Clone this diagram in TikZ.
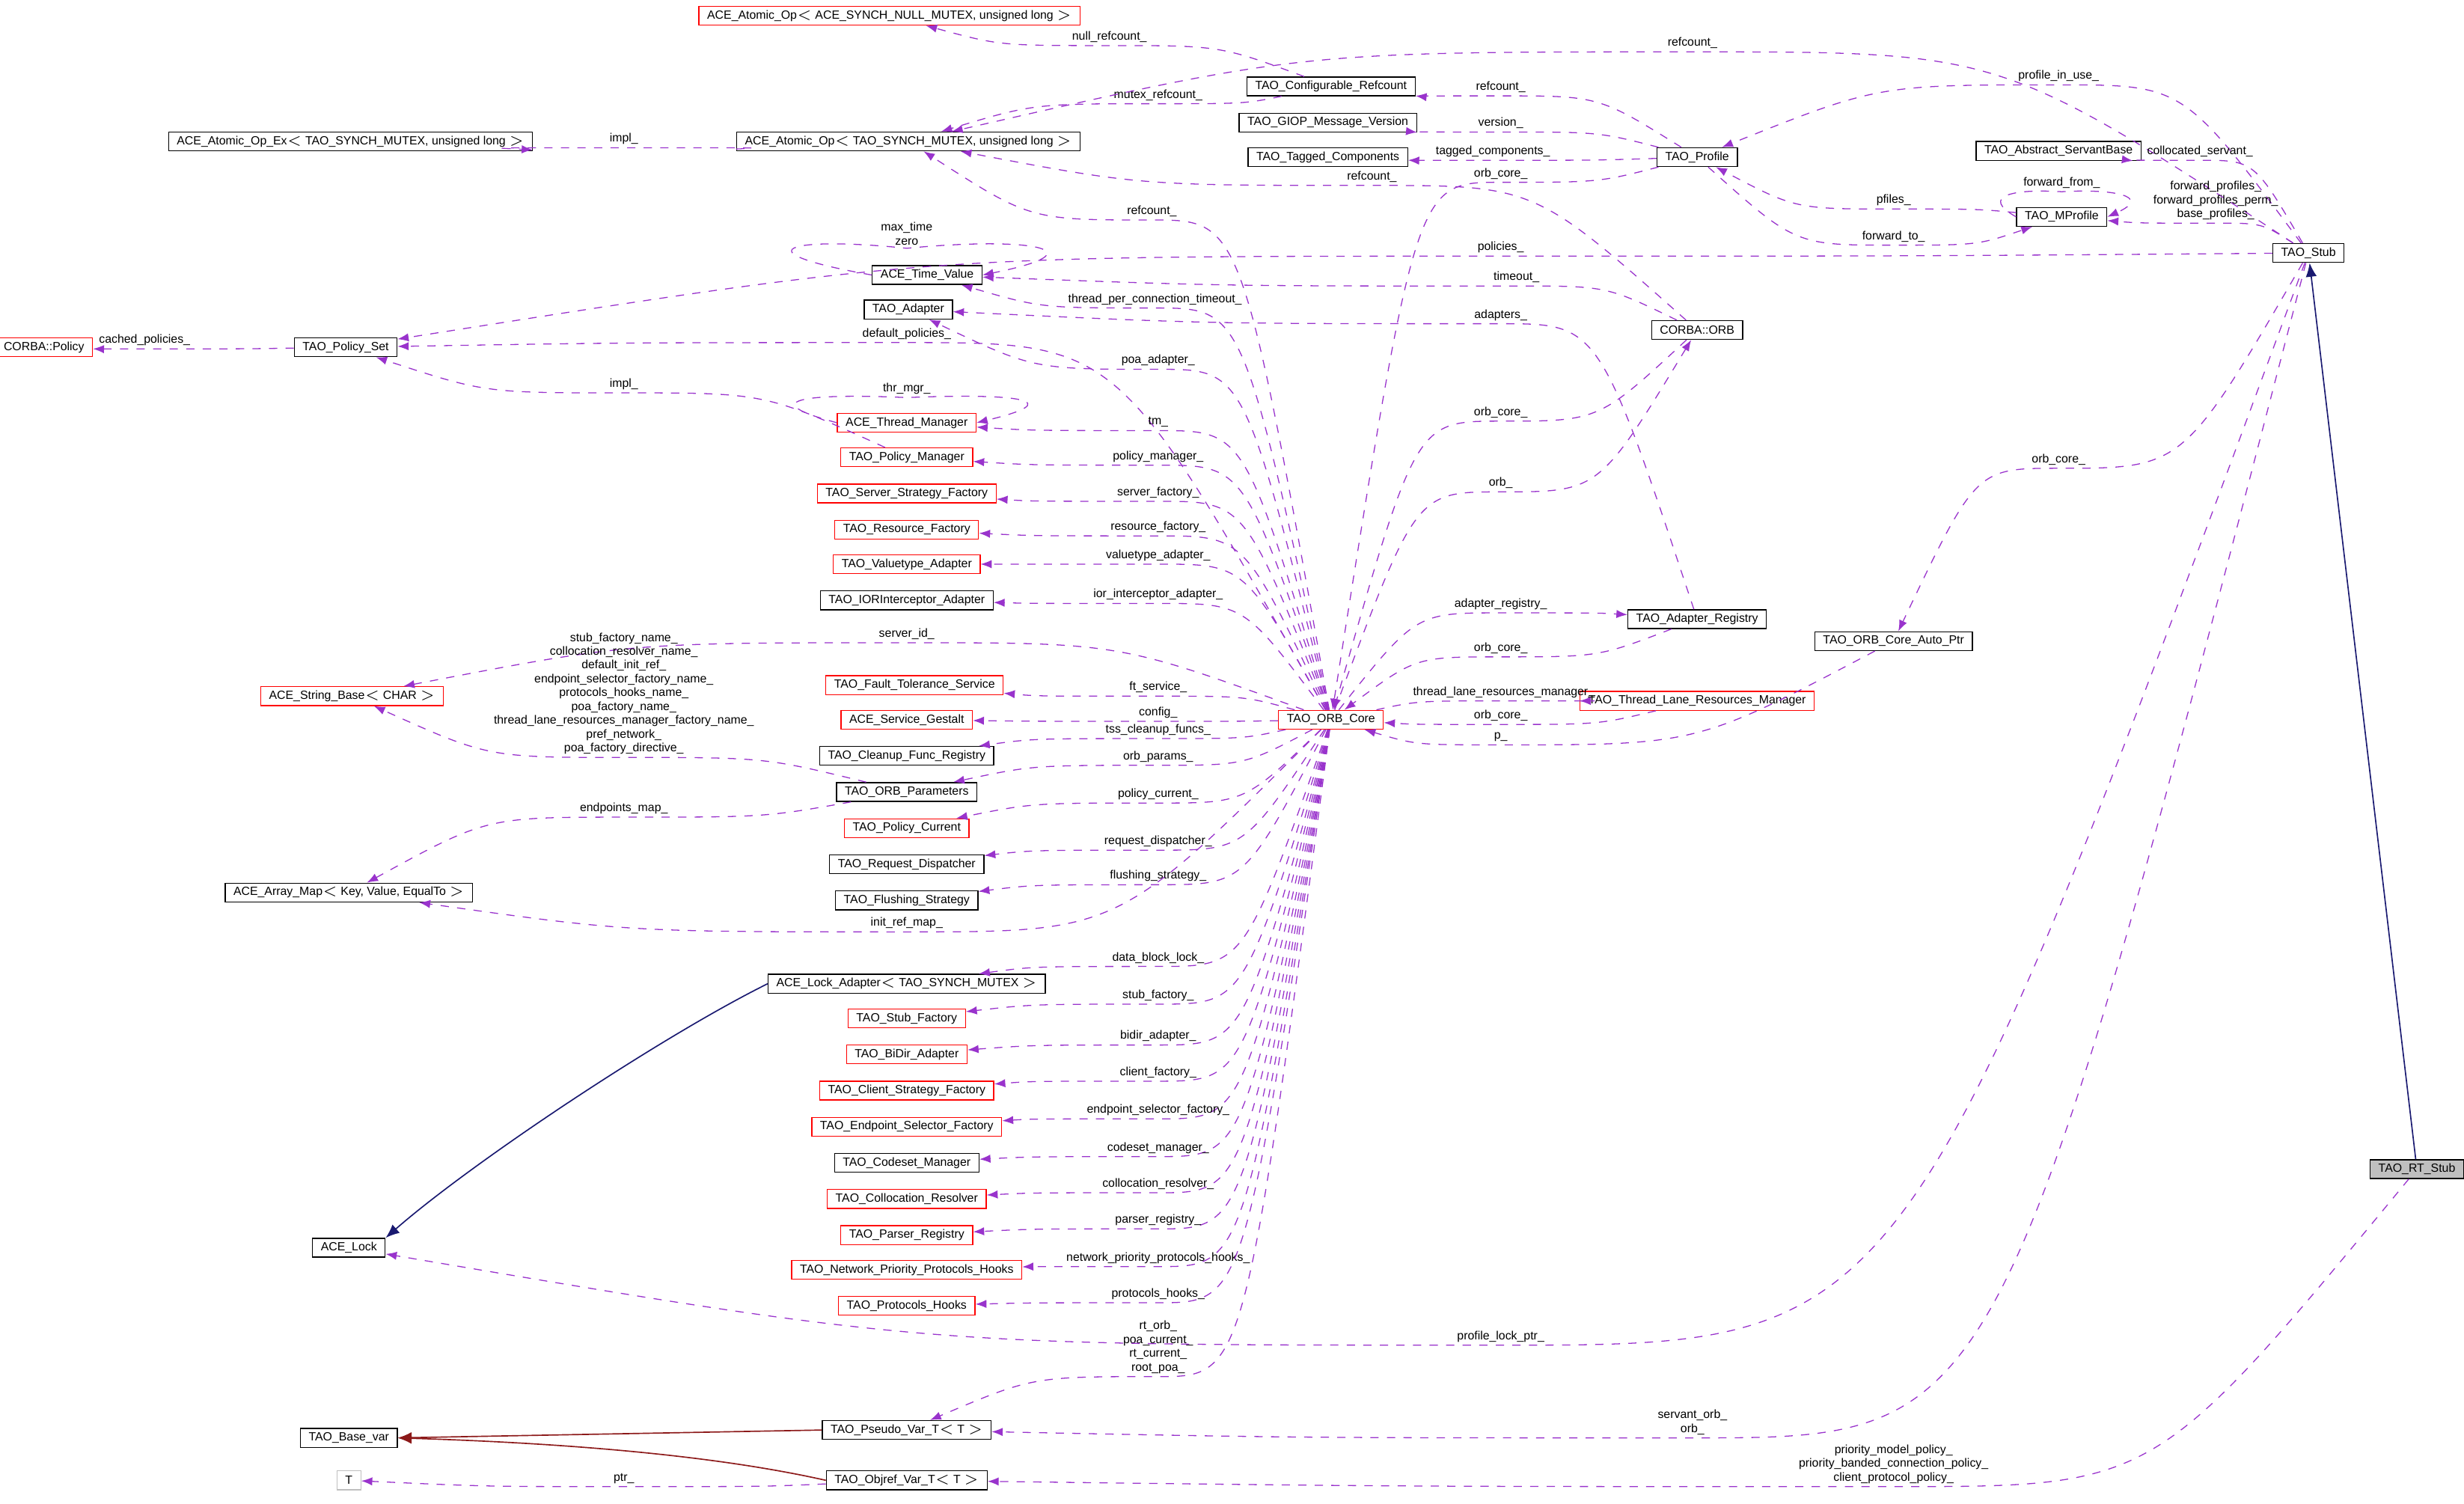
\documentclass[tikz,border=0pt]{standalone}
\usepackage{fontspec}
\setmainfont{Liberation Sans}
\usetikzlibrary{calc,arrows.meta}
\definecolor{depcol}{rgb}{0.60,0.20,0.80}
\definecolor{inhcol}{rgb}{0.10,0.10,0.44}
\definecolor{tplcol}{rgb}{0.55,0.10,0.10}
\tikzset{
    cls/.style={draw=black,line width=0.35pt,fill=white,font=\fontsize{4.3}{5}\selectfont,inner xsep=3pt,inner ysep=0pt,minimum height=0.24cm},
    clsred/.style={cls,draw=red},
    clsgray/.style={cls,draw=black!25},
    clscur/.style={cls,fill=black!25},
    dep/.style={depcol,line width=0.35pt,dashed,-{Latex[length=4pt,width=3pt]}},
    inh/.style={inhcol,line width=0.45pt,-{Latex[length=5pt,width=4pt]}},
    tpl/.style={tplcol,line width=0.45pt,-{Latex[length=5pt,width=4pt]}},
    lbl/.style={black,font=\fontsize{4.3}{5}\selectfont,inner sep=1pt,align=center}
}
% dashed usage edge, level at its label
\newcommand\dep[4]{%
  \coordinate (lp) at (#3);
  \path ($(lp)!0.5!(#1)$) coordinate (ma) ($(lp)!0.5!(#2)$) coordinate (mb);
  \draw[dep] (#1) .. controls (ma |- lp) .. (lp) node[lbl,above]{#4} .. controls (mb |- lp) .. (#2);}
\begin{document}
\begin{tikzpicture}[x=0.02cm,y=-0.02cm]
\useasboundingbox (0,0) rectangle (1568,957);
% classes
\node[clsred] (atomNull) at (566,10) {ACE\_Atomic\_Op$<$ ACE\_SYNCH\_NULL\_MUTEX, unsigned long $>$};
\node[cls] (confRef) at (847,55) {TAO\_Configurable\_Refcount};
\node[cls] (atomEx) at (223,90) {ACE\_Atomic\_Op\_Ex$<$ TAO\_SYNCH\_MUTEX, unsigned long $>$};
\node[cls] (atom) at (578,90) {ACE\_Atomic\_Op$<$ TAO\_SYNCH\_MUTEX, unsigned long $>$};
\node[cls] (giop) at (845,78) {TAO\_GIOP\_Message\_Version};
\node[cls] (tagged) at (845,100) {TAO\_Tagged\_Components};
\node[cls] (profile) at (1080,100) {TAO\_Profile};
\node[cls] (servBase) at (1310,96) {TAO\_Abstract\_ServantBase};
\node[cls] (mprofile) at (1312,138) {TAO\_MProfile};
\node[cls] (stub) at (1469,161) {TAO\_Stub};
\node[cls] (timeVal) at (590,175) {ACE\_Time\_Value};
\node[cls] (adapter) at (578,197) {TAO\_Adapter};
\node[cls] (orb) at (1080,210) {CORBA::ORB};
\node[clsred] (policy) at (28,221) {CORBA::Policy};
\node[cls] (polSet) at (220,221) {TAO\_Policy\_Set};
\node[clsred] (thrMgr) at (577,269) {ACE\_Thread\_Manager};
\node[clsred] (polMgr) at (577,291) {TAO\_Policy\_Manager};
\node[clsred] (srvStrat) at (577,314) {TAO\_Server\_Strategy\_Factory};
\node[clsred] (resFac) at (577,337) {TAO\_Resource\_Factory};
\node[clsred] (valAd) at (577,359) {TAO\_Valuetype\_Adapter};
\node[cls] (iorAd) at (577,382) {TAO\_IORInterceptor\_Adapter};
\node[cls] (adReg) at (1080,394) {TAO\_Adapter\_Registry};
\node[cls] (autoPtr) at (1205,408) {TAO\_ORB\_Core\_Auto\_Ptr};
\node[clsred] (strBase) at (224,443) {ACE\_String\_Base$<$ CHAR $>$};
\node[clsred] (ftServ) at (582,436) {TAO\_Fault\_Tolerance\_Service};
\node[clsred] (tlrm) at (1080,446) {TAO\_Thread\_Lane\_Resources\_Manager};
\node[clsred] (core) at (847,458) {TAO\_ORB\_Core};
\node[clsred] (gestalt) at (577,458) {ACE\_Service\_Gestalt};
\node[cls] (cleanup) at (577,481) {TAO\_Cleanup\_Func\_Registry};
\node[cls] (orbParams) at (577,504) {TAO\_ORB\_Parameters};
\node[clsred] (polCur) at (577,527) {TAO\_Policy\_Current};
\node[cls] (reqDisp) at (577,550) {TAO\_Request\_Dispatcher};
\node[cls] (arrMap) at (222,568) {ACE\_Array\_Map$<$ Key, Value, EqualTo $>$};
\node[cls] (flush) at (577,573) {TAO\_Flushing\_Strategy};
\node[cls] (lockAd) at (577,626) {ACE\_Lock\_Adapter$<$ TAO\_SYNCH\_MUTEX $>$};
\node[clsred] (stubFac) at (577,648) {TAO\_Stub\_Factory};
\node[clsred] (bidir) at (577,671) {TAO\_BiDir\_Adapter};
\node[clsred] (cliStrat) at (577,694) {TAO\_Client\_Strategy\_Factory};
\node[clsred] (endSel) at (577,717) {TAO\_Endpoint\_Selector\_Factory};
\node[cls] (codeset) at (577,740) {TAO\_Codeset\_Manager};
\node[clsred] (colloc) at (577,763) {TAO\_Collocation\_Resolver};
\node[clsred] (parser) at (577,786) {TAO\_Parser\_Registry};
\node[clsred] (netPrio) at (577,808) {TAO\_Network\_Priority\_Protocols\_Hooks};
\node[clsred] (protHooks) at (577,831) {TAO\_Protocols\_Hooks};
\node[cls] (aceLock) at (222,794) {ACE\_Lock};
\node[cls] (baseVar) at (222,915) {TAO\_Base\_var};
\node[cls] (pseudo) at (577,910) {TAO\_Pseudo\_Var\_T$<$ T $>$};
\node[cls] (objref) at (577,942) {TAO\_Objref\_Var\_T$<$ T $>$};
\node[clsgray] (tNode) at (222,942) {T};
\node[clscur] (rtStub) at (1538,744) {TAO\_RT\_Stub};
% inheritance
\draw[inh] (rtStub) -- (stub);
\draw[inh] (lockAd.west) .. controls (420,660) and (300,740) .. (aceLock.north east);
\draw[tpl] (pseudo.west) -- (baseVar.east);
\draw[tpl] (objref.west) .. controls (450,925) and (350,918) .. (baseVar.east);
% usage from TAO_ORB_Core
\dep{core}{atom}{733,140}{refcount\_}
\dep{core}{timeVal}{735,196}{thread\_per\_connection\_timeout\_}
\dep{core}{polSet}{577,218}{default\_policies\_}
\dep{core}{adapter}{737,235}{poa\_adapter\_}
\dep{core}{thrMgr}{737,274}{tm\_}
\dep{core}{polMgr}{737,296}{policy\_manager\_}
\dep{core}{srvStrat}{737,319}{server\_factory\_}
\dep{core}{resFac}{737,341}{resource\_factory\_}
\dep{core}{valAd}{737,359}{valuetype\_adapter\_}
\dep{core}{iorAd}{737,384}{ior\_interceptor\_adapter\_}
\dep{core}{strBase}{577,409}{server\_id\_}
\dep{core}{ftServ}{737,443}{ft\_service\_}
\dep{core}{gestalt}{737,459}{config\_}
\dep{core}{cleanup}{737,470}{tss\_cleanup\_funcs\_}
\dep{core}{orbParams}{737,487}{orb\_params\_}
\dep{core}{polCur}{737,511}{policy\_current\_}
\dep{core}{reqDisp}{737,541}{request\_dispatcher\_}
\dep{core}{flush}{737,563}{flushing\_strategy\_}
\dep{core}{arrMap}{577,593}{init\_ref\_map\_}
\dep{core}{lockAd}{737,615}{data\_block\_lock\_}
\dep{core}{stubFac}{737,639}{stub\_factory\_}
\dep{core}{bidir}{737,665}{bidir\_adapter\_}
\dep{core}{cliStrat}{737,688}{client\_factory\_}
\dep{core}{endSel}{737,712}{endpoint\_selector\_factory\_}
\dep{core}{codeset}{737,736}{codeset\_manager\_}
\dep{core}{colloc}{737,759}{collocation\_resolver\_}
\dep{core}{parser}{737,782}{parser\_registry\_}
\dep{core}{netPrio}{737,806}{network\_priority\_protocols\_hooks\_}
\dep{core}{protHooks}{737,829}{protocols\_hooks\_}
\dep{core}{pseudo}{737,876}{rt\_orb\_\\poa\_current\_\\rt\_current\_\\root\_poa\_}
\dep{core}{tlrm}{957,446}{thread\_lane\_resources\_manager\_}
\dep{core}{adReg}{955,390}{adapter\_registry\_}
\dep{core}{orb}{955,313}{orb\_}
% usage back to TAO_ORB_Core
\dep{tlrm}{core}{955,461}{orb\_core\_}
\dep{autoPtr}{core}{955,474}{p\_}
\dep{adReg}{core}{955,418}{orb\_core\_}
\dep{orb}{core}{955,268}{orb\_core\_}
\dep{profile}{core}{955,116}{orb\_core\_}
% self references
\draw[dep] (timeVal.west) .. controls (470,160) and (500,150) .. (577,158) node[lbl,above,align=center]{max\_time\\zero} .. controls (660,150) and (700,160) .. (timeVal.east);
\draw[dep] (thrMgr.west) .. controls (480,255) and (510,250) .. (577,253) node[lbl,above]{thr\_mgr\_} .. controls (650,250) and (680,255) .. (thrMgr.east);
\draw[dep] (mprofile.west) .. controls (1260,125) and (1280,120) .. (1312,122) node[lbl,above]{forward\_from\_} .. controls (1345,120) and (1370,125) .. (mprofile.east);
% other usage
\dep{polSet}{policy}{92,222}{cached\_policies\_}
\dep{atom}{atomEx}{397,94}{impl\_}
\dep{confRef}{atomNull}{706,29}{null\_refcount\_}
\dep{confRef}{atom}{737,66}{mutex\_refcount\_}
\dep{profile}{confRef}{955,61}{refcount\_}
\dep{profile}{giop}{955,84}{version\_}
\dep{profile}{tagged}{950,102}{tagged\_components\_}
\dep{stub}{atom}{1077,33}{refcount\_}
\dep{stub}{profile}{1310,54}{profile\_in\_use\_}
\dep{orb}{atom}{873,118}{refcount\_}
\dep{mprofile}{profile}{1205,133}{pfiles\_}
\dep{profile}{mprofile}{1205,156}{forward\_to\_}
\dep{stub}{mprofile}{1410,142}{forward\_profiles\_\\forward\_profiles\_perm\_\\base\_profiles\_}
\dep{stub}{servBase}{1400,102}{collocated\_servant\_}
\dep{stub}{polSet}{955,163}{policies\_}
\dep{orb}{timeVal}{965,182}{timeout\_}
\dep{adReg}{adapter}{955,206}{adapters\_}
\dep{stub}{autoPtr}{1310,298}{orb\_core\_}
\dep{polMgr}{polSet}{397,250}{impl\_}
\dep{orbParams}{strBase}{397,482}{stub\_factory\_name\_\\collocation\_resolver\_name\_\\default\_init\_ref\_\\endpoint\_selector\_factory\_name\_\\protocols\_hooks\_name\_\\poa\_factory\_name\_\\thread\_lane\_resources\_manager\_factory\_name\_\\pref\_network\_\\poa\_factory\_directive\_}
\dep{orbParams}{arrMap}{397,520}{endpoints\_map\_}
\dep{stub}{aceLock}{955,856}{profile\_lock\_ptr\_}
\dep{stub}{pseudo}{1077,915}{servant\_orb\_\\orb\_}
\dep{rtStub}{objref}{1205,946}{priority\_model\_policy\_\\priority\_banded\_connection\_policy\_\\client\_protocol\_policy\_}
\dep{objref}{tNode}{397,946}{ptr\_}
\end{tikzpicture}
\end{document}
